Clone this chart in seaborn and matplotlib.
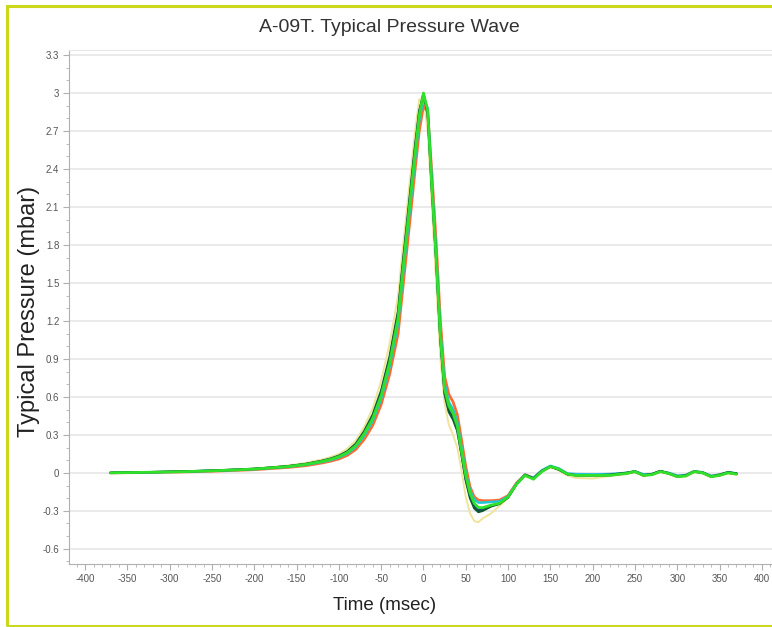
import numpy as np
import pandas as pd
import matplotlib
matplotlib.use("Agg")
import matplotlib.pyplot as plt
from matplotlib.patches import Rectangle
from matplotlib.ticker import MultipleLocator, FixedLocator
import seaborn as sns

time_ms = [-370, -340, -310, -280, -250, -220, -200, -180, -160, -140, -120,
           -110, -100, -90, -80, -70, -60, -50, -40, -30, -25, -20, -15, -10, -5, 0,
           5, 10, 15, 20, 25, 30, 35, 40, 45, 50, 55, 60, 65, 70, 80, 90, 100, 110,
           120, 130, 140, 150, 160, 170, 180, 200, 220, 240, 250, 260, 270, 280, 290,
           300, 310, 320, 330, 340, 350, 360, 370]

wave_yellow = [0.000, 0.004, 0.008, 0.013, 0.019, 0.027, 0.034, 0.045, 0.058, 0.077, 0.105,
               0.124, 0.150, 0.190, 0.255, 0.365, 0.510, 0.730, 1.020, 1.400, 1.740, 2.060, 2.380, 2.700, 2.950, 2.960,
               2.700, 2.100, 1.500, 0.900, 0.550, 0.380, 0.300, 0.200, 0.020, -0.190, -0.320, -0.380, -0.390, -0.360, -0.320, -0.260, -0.200, -0.090,
               -0.025, -0.050, 0.010, 0.045, 0.020, -0.020, -0.040, -0.045, -0.025, -0.010, 0.005, -0.025, -0.015, 0.005, -0.010,
               -0.035, -0.030, 0.005, -0.005, -0.035, -0.025, -0.005, -0.015]

wave_orange = [0.000, 0.002, 0.005, 0.008, 0.013, 0.020, 0.025, 0.034, 0.043, 0.056, 0.078,
               0.092, 0.110, 0.138, 0.185, 0.265, 0.375, 0.540, 0.780, 1.100, 1.420, 1.740, 2.060, 2.390, 2.700, 2.900,
               2.850, 2.360, 1.820, 1.200, 0.760, 0.620, 0.560, 0.460, 0.260, 0.050, -0.110, -0.190, -0.215, -0.220, -0.220, -0.215, -0.180, -0.080,
               -0.015, -0.040, 0.015, 0.050, 0.030, -0.010, -0.015, -0.018, -0.018, -0.002, 0.010, -0.018, -0.012, 0.012, -0.004,
               -0.026, -0.020, 0.012, 0.002, -0.026, -0.016, 0.002, -0.008]

wave_cyan = [0.000, 0.003, 0.006, 0.010, 0.016, 0.023, 0.029, 0.038, 0.048, 0.063, 0.086,
             0.101, 0.122, 0.152, 0.205, 0.295, 0.410, 0.585, 0.840, 1.180, 1.510, 1.830, 2.150, 2.470, 2.780, 2.960,
             2.880, 2.300, 1.740, 1.120, 0.700, 0.560, 0.500, 0.400, 0.200, 0.000, -0.140, -0.210, -0.235, -0.235, -0.230, -0.225, -0.185, -0.085,
             -0.015, -0.040, 0.020, 0.055, 0.035, -0.005, -0.010, -0.012, -0.010, 0.000, 0.012, -0.012, -0.010, 0.012, 0.000,
             -0.022, -0.018, 0.012, 0.004, -0.024, -0.014, 0.004, -0.004]

wave_navy = [0.000, 0.004, 0.007, 0.011, 0.017, 0.025, 0.031, 0.041, 0.052, 0.068, 0.093,
             0.109, 0.132, 0.166, 0.224, 0.322, 0.448, 0.635, 0.900, 1.255, 1.595, 1.915, 2.235, 2.555, 2.845, 2.995,
             2.850, 2.240, 1.690, 1.060, 0.635, 0.495, 0.440, 0.345, 0.150, -0.050, -0.185, -0.265, -0.295, -0.290, -0.260, -0.242, -0.192, -0.090,
             -0.018, -0.045, 0.012, 0.050, 0.028, -0.010, -0.018, -0.018, -0.018, -0.003, 0.012, -0.018, -0.012, 0.012, -0.004,
             -0.028, -0.022, 0.010, 0.002, -0.028, -0.018, 0.002, -0.006]

wave_darkgreen = [0.000, 0.004, 0.007, 0.012, 0.018, 0.026, 0.032, 0.042, 0.053, 0.070, 0.095,
                  0.112, 0.135, 0.170, 0.230, 0.330, 0.460, 0.650, 0.920, 1.280, 1.620, 1.940, 2.260, 2.580, 2.860, 2.990,
                  2.840, 2.230, 1.680, 1.050, 0.620, 0.480, 0.420, 0.330, 0.140, -0.060, -0.200, -0.280, -0.310, -0.300, -0.265, -0.245, -0.195, -0.090,
                  -0.015, -0.045, 0.015, 0.050, 0.025, -0.010, -0.020, -0.020, -0.015, 0.000, 0.010, -0.020, -0.010, 0.015, -0.005,
                  -0.030, -0.020, 0.010, 0.000, -0.030, -0.015, 0.005, -0.005]

wave_green = [0.000, 0.003, 0.006, 0.010, 0.016, 0.024, 0.030, 0.040, 0.050, 0.066, 0.090,
              0.106, 0.128, 0.160, 0.215, 0.310, 0.430, 0.610, 0.870, 1.220, 1.560, 1.880, 2.200, 2.520, 2.820, 3.000,
              2.860, 2.250, 1.700, 1.080, 0.660, 0.530, 0.470, 0.370, 0.170, -0.020, -0.160, -0.240, -0.275, -0.275, -0.255, -0.240, -0.190, -0.090,
              -0.020, -0.050, 0.010, 0.050, 0.030, -0.010, -0.020, -0.020, -0.020, -0.005, 0.010, -0.020, -0.015, 0.010, -0.005,
              -0.030, -0.025, 0.010, 0.000, -0.030, -0.020, 0.000, -0.010]

x_ticks = [-400, -350, -300, -250, -200, -150, -100, -50, 0, 50, 100, 150, 200, 250, 300, 350, 400]
y_ticks = [-0.6, -0.3, 0, 0.3, 0.6, 0.9, 1.2, 1.5, 1.8, 2.1, 2.4, 2.7, 3, 3.3]

series = {
    "yellow": wave_yellow,
    "orange": wave_orange,
    "cyan": wave_cyan,
    "navy": wave_navy,
    "darkgreen": wave_darkgreen,
    "green": wave_green,
}
colors = {"yellow": "#efe49a", "orange": "#ff6a32", "cyan": "#1ec6d8",
          "navy": "#1d3d8c", "darkgreen": "#0f5a2e", "green": "#30e02a"}
widths = {"yellow": 1.4, "orange": 2.0, "cyan": 1.8, "navy": 1.6, "darkgreen": 1.6, "green": 2.0}

frames = []
for name, vals in series.items():
    frames.append(pd.DataFrame({"time": time_ms, "pressure": vals, "series": name}))
df = pd.concat(frames, ignore_index=True)

sns.set_style("white")
plt.rcParams["font.family"] = ["Liberation Sans", "DejaVu Sans"]
plt.rcParams["axes.unicode_minus"] = False

W, H = 772, 627
fig = plt.figure(figsize=(W / 100, H / 100), dpi=100)
ax = fig.add_axes([69 / W, 1 - 564 / H, 1 - 69 / W, (564 - 50) / H])

for name in series:
    sns.lineplot(data=df[df["series"] == name], x="time", y="pressure", ax=ax,
                 color=colors[name], linewidth=widths[name], sort=False,
                 legend=False, zorder=3)

ax.set_xlim(-419, 412)
ax.set_ylim(-0.72, 3.34)
ax.xaxis.set_major_locator(FixedLocator(x_ticks))
ax.xaxis.set_minor_locator(MultipleLocator(10))
ax.yaxis.set_major_locator(FixedLocator(y_ticks))
ax.yaxis.set_minor_locator(FixedLocator(np.round(np.arange(-0.7, 3.31, 0.1), 2)))
ax.set_xticklabels([str(v) for v in x_ticks])
ax.set_yticklabels([("%g" % v) for v in y_ticks])

ax.grid(axis="y", which="major", color="#e6e6e6", linewidth=1.2, zorder=0)
ax.grid(axis="x", visible=False)
ax.spines["right"].set_visible(False)
ax.spines["top"].set_color("#e8e8e8")
ax.spines["left"].set_color("#b0b0b0")
ax.spines["bottom"].set_color("#b0b0b0")
ax.tick_params(axis="both", which="major", direction="out", length=4, width=0.8,
               color="#b0b0b0", labelsize=7, labelcolor="#555555", pad=3,
               left=True, bottom=True)
ax.tick_params(axis="both", which="minor", direction="out", length=2, width=0.6,
               color="#b0b0b0", left=True, bottom=True)

ax.set_xlabel("")
ax.set_ylabel("")
fig.text(385 / W, 1 - 605 / H, "Time (msec)", ha="center", va="center",
         fontsize=13.5, color="#222222")
fig.text(29 / W, 1 - 311 / H, "Typical Pressure (mbar)", ha="center", va="center",
         rotation=90, fontsize=17, color="#222222")
fig.text(0.505, 1 - 27 / H, "A-09T. Typical Pressure Wave", ha="center", va="center",
         fontsize=14, color="#333333")

fig.patches.append(Rectangle((7 / W, 1.5 / H), 1.2, (H - 7) / H, transform=fig.transFigure,
                             fill=False, edgecolor="#ccd81c", linewidth=2.2, figure=fig))

fig.savefig("out.png", dpi=100, facecolor="white")
